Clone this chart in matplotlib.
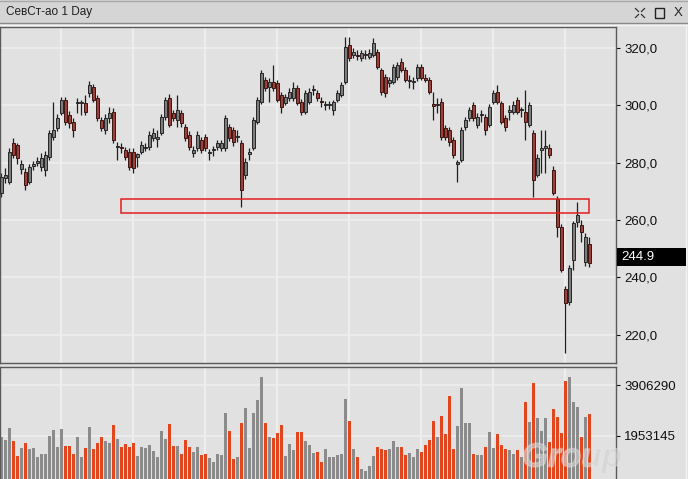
import numpy as np
import matplotlib.pyplot as plt
from matplotlib.patches import Rectangle
from matplotlib.lines import Line2D
import matplotlib.patheffects as pe

# ============================================================
# DATA (daily candles)
# ============================================================
TITLE = "СевСт-ао 1 Day"

opens = [269.5, 274.6, 273.3, 286.9, 286.2, 277.8, 276.8, 273.3, 279.0, 280.0,
         278.5, 277.5, 282.0, 289.0, 292.1, 297.4, 301.9, 296.7, 294.2, 300.8,
         300.8, 300.8, 304.3, 306.4, 302.6, 294.9, 291.4, 295.6, 297.7, 285.5,
         285.6, 284.5, 283.8, 283.8, 282.0, 283.8, 285.0, 285.5, 288.6, 288.4,
         290.4, 296.0, 302.6, 297.4, 294.9, 297.4, 292.5, 289.7, 283.5, 285.2,
         287.9, 289.0, 283.4, 284.3, 285.5, 285.2, 285.2, 292.5, 291.4, 288.8,
         286.9, 275.7, 283.2, 285.2, 294.2, 301.2, 308.9, 306.4, 308.2, 307.8,
         303.6, 300.8, 302.6, 302.6, 306.1, 301.2, 297.7, 301.2, 305.2, 304.3,
         301.5, 300.0, 300.0, 298.4, 301.9, 303.6, 308.2, 321.0, 317.6, 317.6,
         316.5, 317.4, 316.8, 317.6, 318.6, 312.3, 309.9, 307.8, 308.2, 309.9,
         315.1, 312.3, 308.5, 308.2, 309.5, 313.4, 309.5, 308.9, 300.3, 300.1,
         301.2, 292.1, 291.4, 287.9, 279.7, 281.0, 292.5, 295.6, 300.1, 293.2,
         296.5, 296.0, 293.2, 301.2, 304.7, 300.8, 295.6, 297.8, 297.7, 301.9,
         298.2, 297.7, 293.2, 290.4, 275.7, 284.5, 285.3, 285.2, 277.5, 267.4,
         257.6, 236.0, 231.5, 246.1, 259.4, 258.3, 245.4, 251.5]

highs = [276.5, 278.0, 285.0, 288.5, 287.0, 281.0, 278.0, 279.5, 280.5, 282.0,
         283.5, 284.0, 291.5, 301.2, 297.0, 303.0, 303.0, 298.0, 295.5, 302.5,
         302.0, 303.6, 308.5, 307.5, 303.5, 296.0, 297.0, 299.4, 299.0, 287.2,
         287.0, 285.5, 285.0, 285.0, 283.5, 287.5, 287.0, 291.0, 292.0, 291.4,
         297.0, 303.0, 304.0, 298.5, 303.6, 298.5, 293.5, 291.0, 286.0, 291.0,
         289.0, 290.0, 284.8, 286.0, 288.0, 288.0, 296.5, 293.5, 292.5, 291.4,
         288.0, 281.5, 285.2, 296.0, 303.0, 312.3, 310.0, 309.5, 314.1, 309.0,
         304.5, 304.0, 306.0, 308.2, 307.0, 302.2, 305.5, 306.0, 307.1, 305.5,
         303.0, 301.5, 301.5, 302.0, 305.2, 308.0, 323.8, 323.8, 320.0, 319.2,
         319.3, 319.3, 319.5, 323.5, 319.5, 313.0, 311.0, 310.0, 314.5, 315.1,
         316.5, 313.4, 310.6, 309.8, 314.5, 314.5, 311.0, 309.8, 304.7, 302.6,
         302.5, 293.0, 292.5, 289.0, 281.0, 292.5, 296.0, 299.5, 301.2, 297.5,
         298.4, 297.0, 300.5, 305.5, 307.1, 301.5, 296.5, 300.1, 301.5, 302.8,
         299.4, 305.4, 301.2, 291.5, 283.0, 291.4, 291.4, 286.5, 279.0, 268.5,
         258.5, 237.0, 244.5, 259.8, 266.3, 260.0, 255.5, 254.0]

lows = [268.0, 273.0, 272.5, 281.5, 279.5, 276.0, 270.5, 272.5, 277.5, 279.0,
        277.0, 275.5, 281.0, 288.0, 291.0, 296.5, 293.0, 292.0, 289.0, 297.5,
        296.5, 296.5, 303.0, 301.0, 294.5, 291.0, 290.0, 293.9, 287.0, 281.0,
        283.5, 281.0, 277.5, 276.5, 278.5, 283.0, 284.0, 284.5, 287.5, 285.5,
        289.5, 295.0, 292.5, 294.5, 292.5, 292.5, 287.5, 284.5, 282.0, 284.0,
        283.5, 284.0, 280.8, 282.5, 284.5, 284.2, 284.0, 287.5, 286.0, 287.2,
        264.6, 274.5, 281.0, 284.5, 293.5, 300.5, 305.0, 301.2, 305.0, 301.0,
        297.4, 300.0, 301.5, 301.5, 300.0, 296.5, 297.0, 300.5, 303.6, 301.5,
        299.5, 298.5, 298.8, 296.5, 301.0, 302.8, 307.5, 315.5, 316.5, 315.8,
        315.5, 316.2, 316.0, 317.0, 312.5, 303.6, 303.0, 306.5, 307.5, 309.0,
        311.5, 308.0, 306.1, 305.8, 308.5, 308.8, 308.0, 304.0, 294.9, 297.4,
        288.0, 288.0, 286.0, 281.5, 273.3, 280.3, 291.5, 294.5, 294.5, 292.0,
        294.2, 289.8, 292.5, 300.5, 300.5, 293.5, 291.0, 294.9, 297.0, 297.0,
        296.0, 287.9, 292.5, 268.1, 275.0, 276.5, 276.5, 281.5, 268.8, 254.1,
        242.0, 213.7, 230.5, 242.6, 257.5, 252.5, 244.0, 243.8]

closes = [275.1, 275.8, 283.8, 282.7, 281.7, 279.5, 272.3, 278.5, 279.4, 280.5,
          281.7, 282.7, 290.4, 291.4, 295.6, 301.9, 294.2, 293.9, 291.4, 301.2,
          301.0, 297.7, 307.1, 301.9, 295.6, 292.1, 295.6, 297.4, 287.9, 285.9,
          285.3, 282.0, 278.5, 278.2, 283.0, 286.2, 285.5, 289.7, 290.4, 288.8,
          296.0, 301.9, 293.2, 295.6, 298.4, 293.9, 288.6, 285.5, 284.5, 289.7,
          284.5, 285.2, 283.8, 284.7, 286.9, 286.9, 295.6, 288.6, 287.2, 289.2,
          270.5, 280.3, 283.6, 294.9, 301.9, 311.3, 306.1, 308.2, 306.1, 301.9,
          299.4, 302.9, 304.7, 306.1, 300.8, 297.7, 304.3, 304.7, 305.6, 302.6,
          301.0, 300.3, 300.4, 301.2, 304.3, 307.1, 320.3, 316.5, 318.6, 317.3,
          318.2, 317.8, 318.2, 321.7, 313.4, 304.7, 304.3, 308.9, 313.4, 314.1,
          312.3, 308.9, 308.9, 308.6, 313.4, 309.5, 308.9, 304.7, 299.9, 300.5,
          289.0, 289.0, 287.2, 282.7, 280.3, 291.4, 294.9, 298.4, 295.6, 296.0,
          296.9, 291.4, 299.4, 304.3, 301.2, 294.2, 292.5, 298.2, 300.1, 297.7,
          298.6, 294.2, 300.1, 274.0, 281.7, 285.2, 285.7, 282.7, 269.5, 257.6,
          242.6, 231.1, 243.3, 259.0, 261.8, 255.9, 254.1, 244.9]

volumes = [1915000, 1800000, 2260000, 1762000, 1187000, 1494000, 1685000, 1455000, 1494000, 1149000,
           1264000, 1264000, 1953000, 2183000, 1532000, 2221000, 1570000, 1570000, 1264000, 1915000,
           1149000, 1494000, 2298000, 1455000, 1685000, 1915000, 1762000, 1685000, 2375000, 1838000,
           1532000, 1647000, 1532000, 1685000, 1187000, 1532000, 1494000, 1609000, 1379000, 1149000,
           2145000, 1838000, 2413000, 1570000, 1570000, 1264000, 1800000, 1532000, 1340000, 1532000,
           1226000, 1264000, 1111000, 957000, 1264000, 1226000, 2834000, 2145000, 1072000, 1149000,
           2451000, 3026000, 1494000, 2834000, 3332000, 4213000, 2451000, 1915000, 1877000, 2068000,
           2375000, 1187000, 1647000, 1417000, 2106000, 2106000, 1762000, 1609000, 1302000, 1340000,
           957000, 1455000, 1149000, 1149000, 1226000, 1264000, 3370000, 2528000, 1455000, 1149000,
           689000, 613000, 804000, 1187000, 1532000, 1455000, 1417000, 1455000, 1762000, 1532000,
           1532000, 1226000, 1302000, 1149000, 1455000, 1340000, 1609000, 1800000, 2528000, 1915000,
           2719000, 2030000, 3485000, 1455000, 2336000, 3792000, 2451000, 2451000, 1264000, 1226000,
           1226000, 1532000, 2106000, 1494000, 2030000, 1609000, 1455000, 1417000, 1264000, 1417000,
           1149000, 3255000, 2490000, 3983000, 2643000, 2145000, 2643000, 1723000, 2987000, 2681000,
           2068000, 4060000, 4213000, 3255000, 3064000, 1915000, 2681000, 2796000]

PRICE_TICKS = [220, 240, 260, 280, 300, 320]
VOL_TICKS = [1953145, 3906290]
VGRID_AT = [15, 33, 51, 69, 87, 105, 123, 141]

# support zone drawn on the chart
ZONE_START, ZONE_END = 30, 147
ZONE_LO, ZONE_HI = 262.5, 267.4

# ============================================================
# STYLE
# ============================================================
W, H = 688, 479
BG = '#e1e1e1'
GRID = '#ededed'
UP_BODY, UP_EDGE = '#7c7c7c', '#262626'
DN_BODY, DN_EDGE = '#9e3f3a', '#3a1512'
VOL_UP, VOL_DN = '#8b8b8b', '#e1461f'
FONT = 'Liberation Sans'

plt.rcParams['font.family'] = [FONT, 'DejaVu Sans']


def fx(px):
    return px / W


def fy(py):
    return 1 - py / H


fig = plt.figure(figsize=(W / 100, H / 100), dpi=100)
fig.patch.set_facecolor(BG)

# ---- window title bar ----
fig.patches.append(Rectangle((0, fy(23)), 1, 23 / H, transform=fig.transFigure,
                             facecolor='#d5d5d5', edgecolor='none', zorder=0))
for py, col in [(1, '#a8a8a8'), (23, '#8a8a8a'), (25, '#f4f4f4')]:
    fig.add_artist(Line2D([0, 1], [fy(py), fy(py)], transform=fig.transFigure,
                          color=col, lw=1))
fig.text(fx(6), fy(12.5), TITLE, fontsize=8.5, va='center', ha='left', color='#202020')
# window icons (collapse, maximize, close)
for dx, dy in [(-1, -1), (1, -1), (-1, 1), (1, 1)]:
    cx, cy = 640, 13
    fig.add_artist(Line2D([fx(cx + dx * 1.5), fx(cx + dx * 4.5)],
                          [fy(cy + dy * 1.5), fy(cy + dy * 4.5)],
                          transform=fig.transFigure, color='#333333', lw=0.9))
fig.patches.append(Rectangle((fx(655), fy(18)), 9 / W, 10 / H, transform=fig.transFigure,
                             facecolor='none', edgecolor='#222222', lw=1))
fig.text(fx(678.5), fy(13), 'X', fontsize=9.5, va='center', ha='center', color='#222222')

# ---- price panel ----
ax = fig.add_axes([0, fy(363), fx(616), fy(27) - fy(363)])
axv = fig.add_axes([0, 0, fx(616), fy(367)])

n = len(closes)
x = np.arange(n)
o = np.array(opens)
h = np.array(highs)
l = np.array(lows)
c = np.array(closes)
up = c >= o

ax.set_facecolor(BG)
ax.set_xlim(-0.3, 153.7)
ax.set_ylim(210.2, 327.3)
for yv in PRICE_TICKS:
    ax.axhline(yv, color=GRID, lw=1.3, zorder=0)
for xv in VGRID_AT:
    ax.axvline(xv, color=GRID, lw=1.6, zorder=0)

ax.vlines(x, l, h, color='#1e1e1e', lw=0.9, zorder=2)
body_lo = np.minimum(o, c)
body_h = np.maximum(np.abs(c - o), 0.35)
ax.bar(x[up], body_h[up], bottom=body_lo[up], width=0.72,
       color=UP_BODY, edgecolor=UP_EDGE, lw=0.7, zorder=3)
ax.bar(x[~up], body_h[~up], bottom=body_lo[~up], width=0.72,
       color=DN_BODY, edgecolor=DN_EDGE, lw=0.7, zorder=3)

ax.add_patch(Rectangle((ZONE_START, ZONE_LO), ZONE_END - ZONE_START, ZONE_HI - ZONE_LO,
                       fill=False, edgecolor='#e41c1c', lw=1.1, zorder=4))

ax.yaxis.tick_right()
ax.set_yticks(PRICE_TICKS)
ax.set_yticklabels([f'{v:.1f}'.replace('.', ',') for v in PRICE_TICKS])
ax.set_xticks([])
ax.tick_params(axis='y', direction='out', length=3, width=0.8, pad=3,
               labelsize=9.5, colors='#101010')
for s in ax.spines.values():
    s.set_color('#5a5a5a')
    s.set_linewidth(1)

# last price marker
last = closes[-1]
fig.canvas.draw()
y_last = fig.transFigure.inverted().transform(ax.transData.transform((0, last)))[1]
fig.patches.append(Rectangle((fx(617), y_last - 2.7 / H), 69 / W, 18 / H,
                             transform=fig.transFigure, facecolor='black',
                             edgecolor='none', zorder=5))
fig.text(fx(621), y_last + 6.3 / H, f'{last:.1f}', fontsize=9.5, color='white',
         va='center', ha='left', zorder=6)

# ---- volume panel ----
axv.set_facecolor(BG)
axv.set_xlim(-0.3, 153.7)
axv.set_ylim(306000, 4596000)
for yv in VOL_TICKS:
    axv.axhline(yv, color=GRID, lw=1.3, zorder=0)
for xv in VGRID_AT:
    axv.axvline(xv, color=GRID, lw=1.6, zorder=0)
vol = np.array(volumes)
axv.bar(x, vol, width=0.8, color=[VOL_UP if u else VOL_DN for u in up],
        edgecolor='none', zorder=2)
axv.yaxis.tick_right()
axv.set_yticks(VOL_TICKS)
axv.set_yticklabels([str(v) for v in VOL_TICKS])
axv.set_xticks([])
axv.tick_params(axis='y', direction='out', length=3, width=0.8, pad=3,
                labelsize=9.5, colors='#101010')
for s in axv.spines.values():
    s.set_color('#5a5a5a')
    s.set_linewidth(1)
axv.spines['bottom'].set_visible(False)

# faint watermark
fig.text(fx(522), fy(458), 'Group', fontsize=24, fontweight='bold', style='italic',
         color='#d3d3d3', alpha=0.45, va='center', ha='left', zorder=7,
         path_effects=[pe.withStroke(linewidth=1.2, foreground='#f0f0f0', alpha=0.35)])

# window right edge
fig.add_artist(Line2D([fx(686), fx(686)], [0, fy(25)], transform=fig.transFigure,
                      color='#f4f4f4', lw=1))

fig.savefig('out.png', dpi=100, facecolor=fig.get_facecolor())
